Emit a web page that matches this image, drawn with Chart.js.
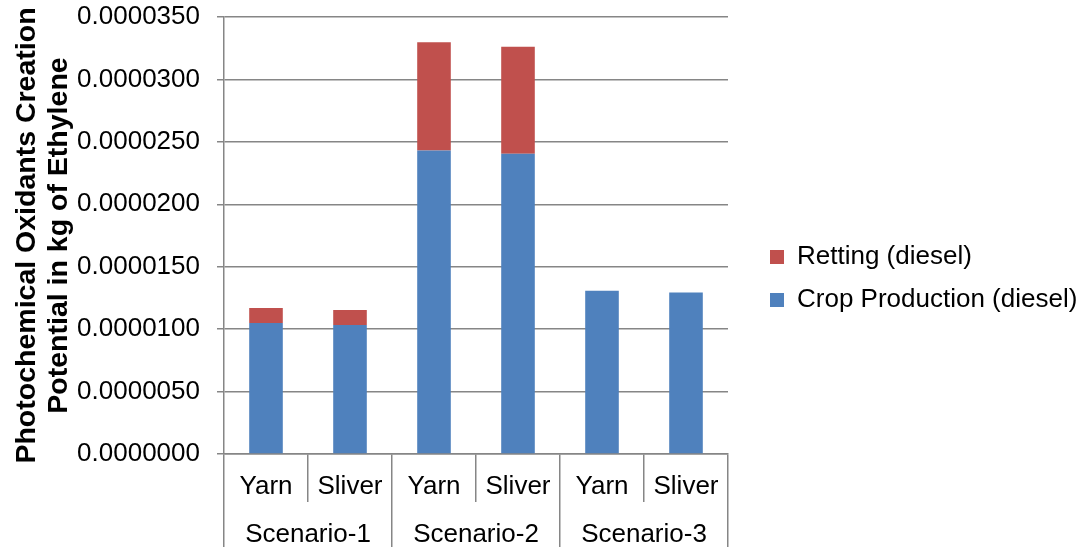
<!DOCTYPE html>
<html>
<head>
<meta charset="utf-8">
<script src="https://cdn.jsdelivr.net/npm/chart.js@4/dist/chart.umd.min.js"></script>
<style>
    html, body { margin: 0; padding: 0; background: #fff; }
    #wrap { width: 1085px; height: 547px; }
</style>
</head>
<body>
<div id="wrap"><canvas id="pocpChart"></canvas></div>
<script>
const products = ['Yarn', 'Sliver', 'Yarn', 'Sliver', 'Yarn', 'Sliver'];
const scenarios = ['Scenario-1', 'Scenario-2', 'Scenario-3'];
const cropProduction = [0.0000105, 0.00001034, 0.0000243, 0.00002404, 0.00001308, 0.00001294];
const retting = [0.0000012, 0.0000012, 0.00000868, 0.00000858, 0, 0];

const axisGray = '#868686';
const font = 'Liberation Sans, Arial, sans-serif';

document.addEventListener('DOMContentLoaded', () => {
    const ctx = document.getElementById('pocpChart').getContext('2d');
    new Chart(ctx, {
        type: 'bar',
        data: {
            labels: products,
            datasets: [
                {
                    label: 'Crop Production (diesel)',
                    data: cropProduction,
                    backgroundColor: '#4F81BD',
                    barPercentage: 0.4,
                    categoryPercentage: 1
                },
                {
                    label: 'Retting (diesel)',
                    data: retting,
                    backgroundColor: '#C0504D',
                    barPercentage: 0.4,
                    categoryPercentage: 1
                }
            ]
        },
        options: {
            responsive: true,
            maintainAspectRatio: false,
            animation: false,
            layout: { padding: { top: 17, left: 0, right: 0, bottom: 0 } },
            plugins: {
                legend: {
                    position: 'right',
                    align: 'start',
                    reverse: true,
                    maxWidth: 332,
                    // empty title only pushes the legend entries down
                    title: { display: true, text: '', font: { size: 0 }, padding: { top: 210, bottom: 0 } },
                    labels: {
                        boxWidth: 14,
                        boxHeight: 14,
                        padding: 17,
                        color: '#000',
                        font: { family: font, size: 26 }
                    }
                },
                tooltip: { enabled: false }
            },
            scales: {
                x: {
                    stacked: true,
                    weight: 0,
                    offset: true,
                    grid: { offset: true, drawOnChartArea: false, tickLength: 48, color: axisGray, lineWidth: 1.5 },
                    border: { display: true, color: axisGray, width: 1.5 },
                    ticks: { color: '#000', padding: -31, font: { family: font, size: 26 } },
                    afterFit: (scale) => { scale.height = 48; }
                },
                x2: {
                    type: 'category',
                    labels: scenarios,
                    position: 'bottom',
                    weight: 1,
                    offset: true,
                    grid: { offset: true, drawOnChartArea: false, tickLength: 45, color: axisGray, lineWidth: 1.5 },
                    border: { display: false },
                    ticks: { color: '#000', padding: -28, font: { family: font, size: 26 } },
                    afterFit: (scale) => { scale.height = 45; }
                },
                y: {
                    stacked: true,
                    min: 0,
                    max: 0.000035,
                    grid: { color: axisGray, lineWidth: 1.5, tickLength: 7 },
                    border: { display: true, color: axisGray, width: 1.5 },
                    ticks: {
                        stepSize: 0.000005,
                        padding: 17,
                        color: '#000',
                        font: { family: font, size: 26 },
                        callback: (v) => v.toFixed(7)
                    },
                    title: {
                        display: true,
                        text: ['Photochemical Oxidants Creation', 'Potential in kg of Ethylene'],
                        color: '#000',
                        padding: { top: 11, bottom: 0 },
                        font: { family: font, size: 28.5, weight: 'bold', lineHeight: 1.13 }
                    },
                    afterFit: (scale) => {
                        scale.width = 224;
                        scale.paddingTop = 0;
                    }
                },
                spacer: {
                    type: 'linear',
                    position: 'right',
                    weight: 0,
                    grid: { display: false, drawTicks: false },
                    border: { display: false },
                    ticks: { display: false },
                    afterFit: (scale) => { scale.width = 25; }
                }
            }
        }
    });
});
</script>
</body>
</html>
